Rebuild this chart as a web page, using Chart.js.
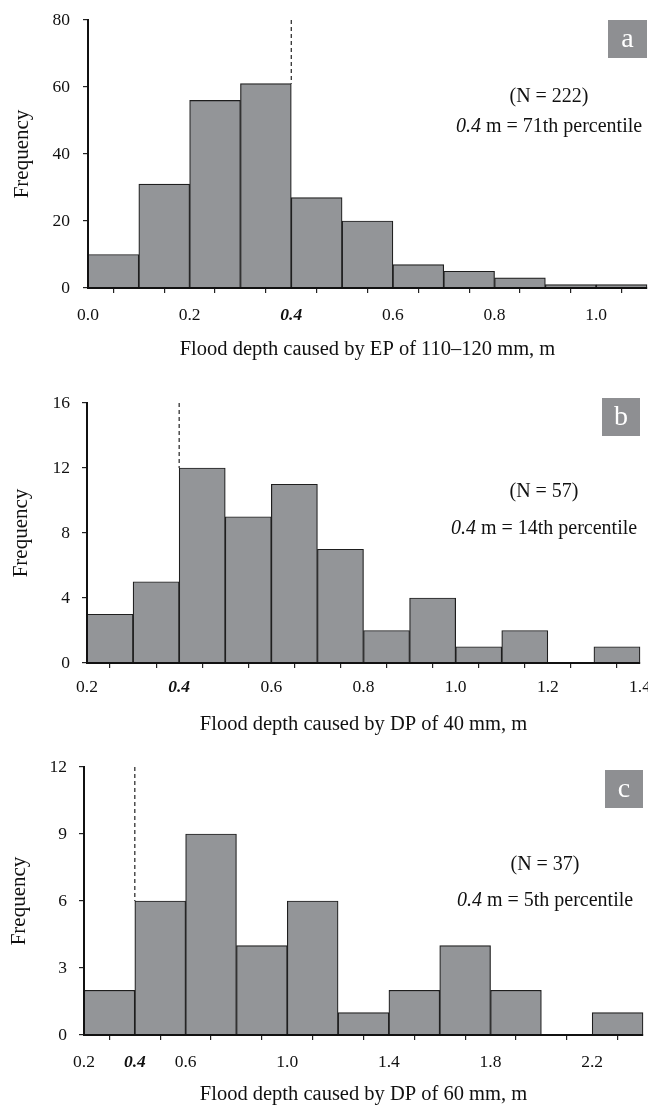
<!DOCTYPE html>
<html><head><meta charset="utf-8">
<script src="https://cdn.jsdelivr.net/npm/chart.js@4.4.0/dist/chart.umd.min.js"></script>
<style>
html,body{margin:0;padding:0;background:#fff;width:648px;height:1107px;overflow:hidden;}
.wrap{position:absolute;left:0;width:648px;}
canvas{display:block;}
</style></head><body>
<div class="wrap" style="top:0px;height:370px"><canvas id="ca" width="648" height="370"></canvas></div>
<div class="wrap" style="top:375px;height:370px"><canvas id="cb" width="648" height="370"></canvas></div>
<div class="wrap" style="top:747px;height:360px"><canvas id="cc" width="648" height="360"></canvas></div>
<script>
// ---------- data ----------
const thresholdDepth = 0.4;

const binStartsA = [0.0, 0.1, 0.2, 0.3, 0.4, 0.5, 0.6, 0.7, 0.8, 0.9, 1.0];
const freqA      = [10, 31, 56, 61, 27, 20, 7, 5, 3, 1, 1];
const binWidthA  = 0.1;
const xTickLabelsA = ['0.0', '0.2', '0.4', '0.6', '0.8', '1.0'];
const yTicksA    = [0, 20, 40, 60, 80];

const binStartsB = [0.2, 0.3, 0.4, 0.5, 0.6, 0.7, 0.8, 0.9, 1.0, 1.1, 1.2, 1.3];
const freqB      = [3, 5, 12, 9, 11, 7, 2, 4, 1, 2, 0, 1];
const binWidthB  = 0.1;
const xTickLabelsB = ['0.2', '0.4', '0.6', '0.8', '1.0', '1.2', '1.4'];
const yTicksB    = [0, 4, 8, 12, 16];

const binStartsC = [0.2, 0.4, 0.6, 0.8, 1.0, 1.2, 1.4, 1.6, 1.8, 2.0, 2.2];
const freqC      = [2, 6, 9, 4, 6, 1, 2, 4, 2, 0, 1];
const binWidthC  = 0.2;
const xTickLabelsC = ['0.2', '0.4', '0.6', '1.0', '1.4', '1.8', '2.2'];
const yTicksC    = [0, 3, 6, 9, 12];

const xTitles = ['Flood depth caused by EP of 110\u2013120 mm, m',
                 'Flood depth caused by DP of 40 mm, m',
                 'Flood depth caused by DP of 60 mm, m'];
const yTitle = 'Frequency';
const panelLetters = ['a', 'b', 'c'];
const sampleSizes = [222, 57, 37];
const percentileLabels = ['71th', '14th', '5th'];

// ---------- styling ----------
const SERIF = '"Liberation Serif", "Times New Roman", serif';
const BAR_FILL = '#939598';
const BAR_EDGE = '#1e1e1e';
const INK = '#111111';
const TICK_SIZE = 17.5;

const annotPlugin = {
  id: 'annot',
  afterDraw(chart) {
    const o = chart.options.plugins.annot;
    if (!o) return;
    const ctx = chart.ctx;
    ctx.save();
    ctx.fillStyle = '#8e8f92';
    ctx.fillRect(o.box.x, o.box.y, o.box.w, o.box.h);
    ctx.fillStyle = '#ffffff';
    ctx.font = '28px ' + SERIF;
    ctx.textAlign = 'center';
    ctx.textBaseline = 'middle';
    ctx.fillText(o.letter, o.box.x + o.box.w / 2, o.box.y + o.box.h / 2 + 1);
    ctx.fillStyle = INK;
    ctx.font = o.fontSize + 'px ' + SERIF;
    ctx.textAlign = 'center';
    ctx.fillText(o.line1, o.cx, o.y1);
    const it = 'italic ' + o.fontSize + 'px ' + SERIF;
    const rm = o.fontSize + 'px ' + SERIF;
    ctx.font = it; const w1 = ctx.measureText(o.line2a).width;
    ctx.font = rm; const w2 = ctx.measureText(o.line2b).width;
    const x0 = o.cx - (w1 + w2) / 2;
    ctx.textAlign = 'left';
    ctx.font = it; ctx.fillText(o.line2a, x0, o.y2);
    ctx.font = rm; ctx.fillText(o.line2b, x0 + w1, o.y2);
    ctx.restore();
  }
};

function build(id, d, L) {
  const n = d.binStarts.length;
  const xMin = d.binStarts[0];
  const xMax = Math.round((d.binStarts[n - 1] + d.binWidth) * 100) / 100;
  const bars = d.binStarts.map((s, i) => ({ x: s + d.binWidth / 2, y: d.freq[i] }));
  const yMax = d.yTicks[d.yTicks.length - 1];
  const yStep = d.yTicks[1] - d.yTicks[0];
  const adj = d.freq.filter((f, i) =>
    Math.abs(d.binStarts[i] - thresholdDepth) < 1e-6 ||
    Math.abs(d.binStarts[i] + d.binWidth - thresholdDepth) < 1e-6);
  const dashEnd = Math.max(...adj);
  const isThr = v => v != null && Math.abs(v - thresholdDepth) < 1e-6;

  new Chart(document.getElementById(id), {
    type: 'bar',
    data: {
      datasets: [
        { type: 'bar', data: bars, backgroundColor: BAR_FILL, borderColor: BAR_EDGE,
          borderWidth: 1.2, barPercentage: 1, categoryPercentage: 1, clip: 4, order: 2 },
        { type: 'line', data: [{ x: thresholdDepth, y: yMax }, { x: thresholdDepth, y: dashEnd }],
          borderColor: '#222', borderWidth: 1.2, borderDash: [4, 3], pointRadius: 0,
          fill: false, clip: false, order: 1 }
      ]
    },
    options: {
      responsive: false, animation: false, devicePixelRatio: 1,
      layout: { padding: { left: 0, top: L.top, right: 648 - L.right, bottom: 0 } },
      plugins: {
        legend: { display: false }, tooltip: { enabled: false },
        annot: {
          box: L.box, letter: d.letter, cx: L.cx, y1: L.y1, y2: L.y2, fontSize: 20,
          line1: '(N = ' + d.n + ')',
          line2a: thresholdDepth.toFixed(1), line2b: ' m = ' + d.pct + ' percentile'
        }
      },
      scales: {
        x: {
          type: 'linear', min: xMin, max: xMax, offset: false,
          ticks: {
            stepSize: d.binWidth, autoSkip: false, maxRotation: 0, minRotation: 0,
            color: INK, padding: L.xTickPad,
            callback: v => { const s = (Math.round(v * 10) / 10).toFixed(1); return d.xTickLabels.includes(s) ? s : ''; },
            font: ctx => {
              const b = isThr(ctx.tick && ctx.tick.value);
              return { family: SERIF, size: TICK_SIZE, style: b ? 'italic' : 'normal', weight: b ? 'bold' : 'normal' };
            }
          },
          grid: { display: true, drawOnChartArea: false, drawTicks: true, tickLength: 5, color: '#222', lineWidth: 1.2 },
          border: { display: true, color: INK, width: 2, z: 1 },
          title: { display: true, text: d.xTitle, color: INK, font: { family: SERIF, size: 20.5, lineHeight: 1.2 },
                   padding: { top: 0, bottom: L.xTitlePad } },
          afterFit: s => { s.height = L.H - L.bottom; s.paddingLeft = 0; s.paddingRight = 0; }
        },
        y: {
          min: 0, max: yMax,
          ticks: { stepSize: yStep, color: INK, padding: L.yTickPad, font: { family: SERIF, size: TICK_SIZE } },
          grid: { display: true, drawOnChartArea: false, drawTicks: true, tickLength: 5, color: '#222', lineWidth: 1.2 },
          border: { display: true, color: INK, width: 2, z: 1 },
          title: { display: true, text: yTitle, color: INK, font: { family: SERIF, size: 21, lineHeight: 1.2 },
                   padding: { top: L.yTitlePad, bottom: 0 } },
          afterFit: s => { s.width = L.left; s.paddingTop = 0; s.paddingBottom = 0; }
        }
      }
    },
    plugins: [annotPlugin]
  });
}

build('ca',
  { binStarts: binStartsA, freq: freqA, binWidth: binWidthA, xTickLabels: xTickLabelsA, yTicks: yTicksA,
    xTitle: xTitles[0], letter: panelLetters[0], n: sampleSizes[0], pct: percentileLabels[0] },
  { H: 370, top: 20, left: 88, right: 647, bottom: 288, xTickPad: 12, yTickPad: 13,
    xTitlePad: 8, yTitlePad: 10, box: { x: 608, y: 20, w: 39, h: 38 }, cx: 549, y1: 97, y2: 127 });

build('cb',
  { binStarts: binStartsB, freq: freqB, binWidth: binWidthB, xTickLabels: xTickLabelsB, yTicks: yTicksB,
    xTitle: xTitles[1], letter: panelLetters[1], n: sampleSizes[1], pct: percentileLabels[1] },
  { H: 370, top: 28, left: 87, right: 640, bottom: 288, xTickPad: 9, yTickPad: 12,
    xTitlePad: 8, yTitlePad: 9, box: { x: 602, y: 23, w: 38, h: 38 }, cx: 544, y1: 117, y2: 154 });

build('cc',
  { binStarts: binStartsC, freq: freqC, binWidth: binWidthC, xTickLabels: xTickLabelsC, yTicks: yTicksC,
    xTitle: xTitles[2], letter: panelLetters[2], n: sampleSizes[2], pct: percentileLabels[2] },
  { H: 360, top: 20, left: 84, right: 643, bottom: 288, xTickPad: 12, yTickPad: 12,
    xTitlePad: 0, yTitlePad: 7, box: { x: 605, y: 23, w: 38, h: 38 }, cx: 545, y1: 118, y2: 154 });
</script>
</body></html>
